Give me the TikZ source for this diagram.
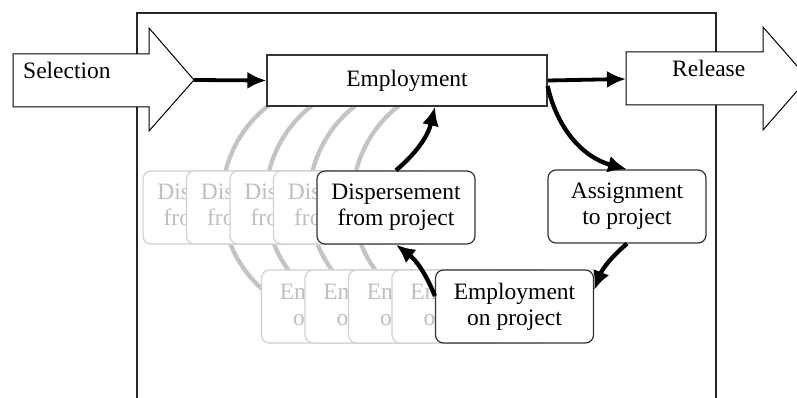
\documentclass[tikz,border=0pt]{standalone}
\usepackage{fontspec}
\setmainfont{Liberation Serif}
\usetikzlibrary{arrows.meta}

\begin{document}
\begin{tikzpicture}[
        x=1pt,
        y=1pt,
        every node/.style={font=\fontsize{23.5}{26}\selectfont},
        box/.style={
            draw=black!80,
            rectangle,
            rounded corners=8pt,
            align=center,
            minimum width=158pt,
            minimum height=73pt,
            inner sep=0pt,
            fill=white,
            line width=1.2pt
        },
        ghost/.style={
            box,
            draw=black!18,
            text=black!25
        },
        block/.style={
            draw=black,
            fill=white,
            line width=1pt
        },
        arrow/.style={
            -{Latex[length=19pt,width=17pt]},
            line width=4.3pt
        },
        ghost line/.style={
            draw=black!23,
            line width=4.3pt
        }
    ]
        \useasboundingbox (0,0) rectangle (797,-398);
        \clip (0,0) rectangle (797,-398);
        % frame
        \draw[black!85, line width=1.2pt] (137,-420) -- (137,-13) -- (716,-13) -- (716,-420);
        % block arrows in and out
        \draw[block] (13,-54) -- (149,-54) -- (149,-28) -- (194,-80) -- (149,-131) -- (149,-107) -- (13,-107) -- cycle;
        \draw[block] (626,-52) -- (763,-52) -- (763,-27) -- (808,-78.5) -- (763,-130) -- (763,-105) -- (626,-105) -- cycle;
        \coordinate (seltip) at (194,-80);
        \coordinate (reltail) at (626,-79);
        \node[anchor=base west, inner sep=0pt] (sel) at (23,-79) {Selection};
        \node[anchor=base west, inner sep=0pt] (rel) at (672,-77) {Release};
        % earlier rounds
        \coordinate (hub) at (515,-200);
        \coordinate (dispc) at (396,-207.5);
        \coordinate (eopc) at (514.5,-306.5);
        \foreach \k in {1,...,4}
            \draw[ghost line] ([xshift=-\k*43.5pt]hub) ++(127.8:119) arc[start angle=127.8, end angle=230.6, radius=119];
        \foreach \k in {4,3,2,1} {
            \node[ghost] (dispg\k) at ([xshift=-\k*43.5pt]dispc) {Dispersement\\from project};
            \node[ghost] (eopg\k) at ([xshift=-\k*43.5pt]eopc) {Employment\\on project};
        }
        % current round
        \node[box, sharp corners, minimum width=280pt, minimum height=51pt] (emp) at (407,-80.5) {Employment};
        \node[box] (asg) at (627,-206.5) {Assignment\\to project};
        \node[box] (eop) at (eopc) {Employment\\on project};
        \node[box] (disp) at (dispc) {Dispersement\\from project};
        \draw[arrow, line width=3.8pt] (seltip) -- (emp.west);
        \draw[arrow, line width=3.8pt] (emp.east) -- (reltail);
        \draw[arrow] ([yshift=-5.5pt]emp.east) to[bend right=31] (asg.north);
        \draw[arrow] (asg.south) to[bend right=14] ([yshift=16.5pt]eop.east);
        \draw[arrow] ([yshift=10.5pt]eop.west) to[bend right=15] (disp.south);
        \draw[arrow] (disp.north) to[bend right=18] ([xshift=28pt]emp.south);
    \end{tikzpicture}
\end{document}
